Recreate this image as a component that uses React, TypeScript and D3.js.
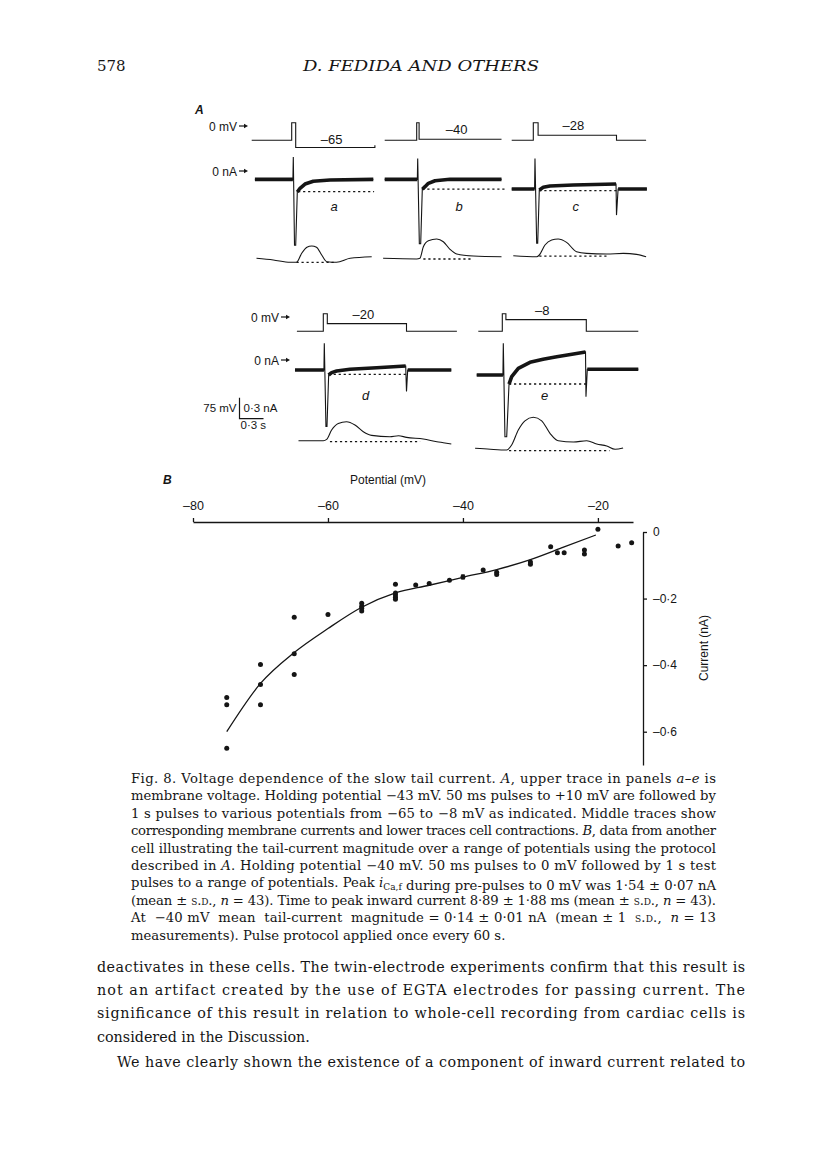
import React, { useEffect, useRef } from "react";
import * as d3 from "d3";

type Pt = number[];
type Seg = [string, string?];

// ---- Panel A: time in s from pulse onset; voltage mV, current nA, shortening um
// third element = 1 marks points of the thin capacity transients
const voltageA: Pt[] = [[-0.5, -43], [0, -43], [0, 10], [0.05, 10], [0.05, -65], [1.04, -65], [1.04, -58]];
const currentA: Pt[] = [[-0.46, -0.12], [0.015, -0.12], [0.02, 0.2, 1], [0.035, -1.06, 1], [0.05, -1.06, 1], [0.07, -0.3, 1], [0.07, -0.3], [0.104, -0.247], [0.166, -0.186], [0.27, -0.147], [0.48, -0.129], [1.02, -0.119]];
const dashCurrentA: Pt[] = [[0.08, -0.296], [1.03, -0.296]];
const contractionA: Pt[] = [[-0.44, 0.34], [-0.23, 0], [-0.02, -0.46], [0.06, -0.46], [0.125, 1.34], [0.19, 2.54], [0.25, 2.8], [0.31, 2.54], [0.375, 1.0], [0.44, -0.34], [0.56, -0.46], [0.73, 0.34], [1.0, 0.66]];
const dashContractionA: Pt[] = [[0.06, -0.46], [0.56, -0.46]];

const voltageB: Pt[] = [[-0.4, -43], [0, -43], [0, 10], [0.03, 10], [0.03, -40], [1.06, -40]];
const currentB: Pt[] = [[-0.4, -0.12], [0.008, -0.12], [0.0125, 0.18, 1], [0.033, -1.04, 1], [0.05, -1.04, 1], [0.07, -0.26, 1], [0.07, -0.26], [0.104, -0.224], [0.146, -0.176], [0.229, -0.139], [0.416, -0.119], [1.06, -0.119]];
const dashCurrentB: Pt[] = [[0.07, -0.26], [1.1, -0.26]];
const contractionB: Pt[] = [[-0.42, 0], [0, -0.13], [0.04, 0], [0.083, 2.32], [0.146, 3.52], [0.25, 3.86], [0.333, 3.32], [0.416, 1.8], [0.5, 0.86], [0.708, 0.46], [1.06, 0.32]];
const dashContractionB: Pt[] = [[0.083, -0.14], [0.708, -0.14]];

const voltageC: Pt[] = [[-0.27, -43], [0, -43], [0, 10], [0.06, 10], [0.06, -28], [1.04, -28], [1.04, -43], [1.41, -43]];
const currentC: Pt[] = [[-0.27, -0.257], [0.016, -0.257], [0.021, 0.18, 1], [0.042, -1.033, 1], [0.055, -1.033, 1], [0.075, -0.27, 1], [0.075, -0.27], [0.125, -0.233], [0.208, -0.214], [0.5, -0.2], [1.034, -0.186], [1.04, -0.63, 1], [1.06, -0.257, 1], [1.06, -0.257], [1.42, -0.257]];
const dashCurrentC: Pt[] = [[0.075, -0.281], [1.04, -0.281]];
const contractionC: Pt[] = [[-0.25, 0], [0.042, -0.2], [0.075, 0.14], [0.146, 2.14], [0.23, 3.14], [0.31, 3.34], [0.416, 2.66], [0.54, 0.8], [0.667, 0.46], [0.917, 0.34], [1.125, 0.46], [1.29, 0.26], [1.41, -0.2]];
const dashContractionC: Pt[] = [[0.075, -0.07], [0.917, -0.07]];

const voltageD: Pt[] = [[-0.33, -43], [0, -43], [0, 10], [0.05, 10], [0.05, -20], [1.04, -20], [1.04, -43], [1.67, -43]];
const currentD: Pt[] = [[-0.354, -0.143], [0.008, -0.143], [0.0125, 0.24, 1], [0.033, -0.95, 1], [0.046, -0.95, 1], [0.067, -0.214, 1], [0.067, -0.214], [0.104, -0.18], [0.167, -0.157], [0.333, -0.133], [0.667, -0.11], [1.03, -0.086], [1.04, -0.45, 1], [1.055, -0.143, 1], [1.055, -0.143], [1.6, -0.143]];
const dashCurrentD: Pt[] = [[0.067, -0.204], [1.04, -0.204]];
const contractionD: Pt[] = [[-0.31, 0], [0, 0], [0.042, 0.26], [0.104, 2.14], [0.1875, 3.46], [0.29, 3.8], [0.396, 3.14], [0.5, 1.8], [0.604, 1.06], [0.833, 0.8], [0.94, 1.0], [1.04, 0.66], [1.25, 0.34], [1.42, -0.2], [1.5, -0.4], [1.6, -0.66]];
const dashContractionD: Pt[] = [[0.083, -0.2], [1.21, -0.2]];

const voltageE: Pt[] = [[-0.3, -43], [0, -43], [0, 10], [0.045, 10], [0.045, -8], [1.05, -8], [1.05, -43], [1.7, -43]];
const currentE: Pt[] = [[-0.32, -0.214], [0.008, -0.214], [0.0125, 0.24, 1], [0.033, -1.096, 1], [0.055, -1.096, 1], [0.084, -0.343, 1], [0.084, -0.343], [0.1175, -0.238], [0.2, -0.119], [0.346, -0.033], [0.51, 0.01], [0.68, 0.047], [0.89, 0.086], [1.04, 0.114], [1.046, -0.524, 1], [1.0625, -0.133, 1], [1.0625, -0.133], [1.7, -0.133]];
const dashCurrentE: Pt[] = [[0.084, -0.343], [1.046, -0.343]];
const contractionE: Pt[] = [[-0.34, 0], [-0.15, -0.2], [0.055, -0.34], [0.117, 0.66], [0.2, 3.66], [0.283, 5.5], [0.3875, 6.2], [0.4925, 5.5], [0.596, 3.0], [0.7, 1.5], [0.89, 1.26], [1.055, 1.5], [1.18, 0.86], [1.305, 0.46], [1.41, -0.2], [1.51, 0.06]];
const dashContractionE: Pt[] = [[0.084, -0.48], [1.34, -0.48]];

const testLevels = [-65, -40, -28, -20, -8];
const panelLetters = ["a", "b", "c", "d", "e"];
const scaleBar = { mV: 75, nA: 0.3, s: 0.3 };

// ---- Panel B: tail current vs potential
const potentialTicks = [-80, -60, -40, -20];
const currentTicks = [0, -0.2, -0.4, -0.6];
const tailPoints: Pt[] = [
  [-75, -0.497], [-75, -0.519], [-75, -0.65],
  [-70, -0.398], [-70, -0.458], [-70, -0.519],
  [-65, -0.256], [-65, -0.366], [-65, -0.428],
  [-60, -0.248],
  [-55, -0.214], [-55, -0.223], [-55, -0.229], [-55, -0.237],
  [-50, -0.157], [-50, -0.183], [-50, -0.189], [-50, -0.196], [-50, -0.202],
  [-47, -0.159], [-45, -0.155], [-42, -0.145], [-40, -0.135],
  [-37, -0.114], [-35, -0.121], [-35, -0.128],
  [-30, -0.09], [-30, -0.097],
  [-27, -0.044], [-26, -0.062], [-25, -0.062],
  [-22, -0.054], [-22, -0.066],
  [-20, 0.008], [-17, -0.042], [-15, -0.032],
];
const tailError = { mV: -40, mean: -0.135, sd: 0.006 };
const fitCurve: Pt[] = [[-75, -0.6], [-70, -0.455], [-65, -0.362], [-60, -0.29], [-55, -0.226], [-50, -0.183], [-45, -0.16], [-40, -0.136], [-35, -0.113], [-30, -0.083], [-25, -0.045], [-20.3, -0.009]];

// ---- page text
const captionLines: Seg[][] = [
  [["Fig. 8. Voltage dependence of the slow tail current. "], ["A", "i"], [", upper trace in panels "], ["a–e", "i"], [" is"]],
  [["membrane voltage. Holding potential −43 mV. 50 ms pulses to +10 mV are followed by"]],
  [["1 s pulses to various potentials from −65 to −8 mV as indicated. Middle traces show"]],
  [["corresponding membrane currents and lower traces cell contractions. "], ["B", "i"], [", data from another"]],
  [["cell illustrating the tail-current magnitude over a range of potentials using the protocol"]],
  [["described in "], ["A", "i"], [". Holding potential −40 mV. 50 ms pulses to 0 mV followed by 1 s test"]],
  [["pulses to a range of potentials. Peak "], ["i", "i"], ["Ca,f", "sub"], [" during pre-pulses to 0 mV was 1·54 ± 0·07 nA"]],
  [["(mean ± "], ["s.d.", "sc"], [", "], ["n", "i"], [" = 43). Time to peak inward current 8·89 ± 1·88 ms (mean ± "], ["s.d.", "sc"], [", "], ["n", "i"], [" = 43)."]],
  [["At  −40 mV  mean  tail-current  magnitude = 0·14 ± 0·01 nA  (mean ± 1  "], ["s.d.", "sc"], [",  "], ["n", "i"], [" = 13"]],
  [["measurements). Pulse protocol applied once every 60 s."]],
];
const bodyLines = [
  "deactivates in these cells. The twin-electrode experiments confirm that this result is",
  "not an artifact created by the use of EGTA electrodes for passing current. The",
  "significance of this result in relation to whole-cell recording from cardiac cells is",
  "considered in the Discussion.",
  "We have clearly shown the existence of a component of inward current related to",
];

const SANS = "'Liberation Sans', Arial, Helvetica, sans-serif";
const SERIF = "'DejaVu Serif', serif";
const INK = "#151515";

export default function App() {
  const svgRef = useRef<SVGSVGElement>(null);

  useEffect(() => {
    const svg = d3.select(svgRef.current);
    svg.selectAll("*").remove();
    svg.append("rect").attr("width", 816).attr("height", 1170).attr("fill", "#fff");

    /* header */
    svg.append("text").attr("x", 97).attr("y", 71).attr("font-family", SERIF).attr("font-size", 15).attr("fill", INK).text("578");
    svg.append("text").attr("x", 421).attr("y", 71).attr("text-anchor", "middle").attr("font-family", SERIF).attr("font-size", 15.5)
      .attr("font-style", "italic").attr("textLength", 236).attr("lengthAdjust", "spacingAndGlyphs").attr("fill", INK).text("D. FEDIDA AND OTHERS");

    /* ---------- Panel A ---------- */
    const PX_PER_S = 80, PX_PER_MV = 0.33, PX_PER_NA = 70, PX_PER_UM = 5;
    const rows = [
      { vZero: 126, iZero: 171, vMarkEnd: 248, iMarkEnd: 248 },
      { vZero: 317, iZero: 360, vMarkEnd: 290, iMarkEnd: 290 },
    ];
    const panels = [
      { row: 0, x0: 291.7, cBase: 260, v: voltageA, i: currentA, di: dashCurrentA, c: contractionA, dc: dashContractionA },
      { row: 0, x0: 416.7, cBase: 258.3, v: voltageB, i: currentB, di: dashCurrentB, c: contractionB, dc: dashContractionB },
      { row: 0, x0: 533.3, cBase: 255.7, v: voltageC, i: currentC, di: dashCurrentC, c: contractionC, dc: dashContractionC },
      { row: 1, x0: 323.3, cBase: 440.7, v: voltageD, i: currentD, di: dashCurrentD, c: contractionD, dc: dashContractionD },
      { row: 1, x0: 502.3, cBase: 448.3, v: voltageE, i: currentE, di: dashCurrentE, c: contractionE, dc: dashContractionE },
    ];

    const gA = svg.append("g").attr("fill", "none").attr("stroke", INK);
    svg.append("text").attr("x", 195).attr("y", 114).attr("font-family", SANS).attr("font-size", 12)
      .attr("font-style", "italic").attr("font-weight", "bold").attr("fill", INK).text("A");

    // 0 mV / 0 nA markers
    rows.forEach((r) => {
      [["0 mV", r.vZero, r.vMarkEnd], ["0 nA", r.iZero, r.iMarkEnd]].forEach(([lab, y, xe]) => {
        const yy = y as number, xx = xe as number;
        svg.append("text").attr("x", xx - 11).attr("y", yy + 4.5).attr("text-anchor", "end").attr("font-family", SANS)
          .attr("font-size", 12).attr("fill", INK).text(lab as string);
        gA.append("line").attr("x1", xx - 9).attr("x2", xx - 3).attr("y1", yy).attr("y2", yy).attr("stroke-width", 1.2);
        gA.append("path").attr("d", `M${xx - 4},${yy - 2.2}L${xx},${yy}L${xx - 4},${yy + 2.2}Z`).attr("fill", INK).attr("stroke", "none");
      });
    });

    panels.forEach((p, k) => {
      const r = rows[p.row];
      const x = d3.scaleLinear().domain([0, 1]).range([p.x0, p.x0 + PX_PER_S]);
      const yV = d3.scaleLinear().domain([0, 1]).range([r.vZero, r.vZero - PX_PER_MV]);
      const yI = d3.scaleLinear().domain([0, 1]).range([r.iZero, r.iZero - PX_PER_NA]);
      const yC = d3.scaleLinear().domain([0, 1]).range([p.cBase, p.cBase - PX_PER_UM]);

      const vLine = d3.line<Pt>().x((d) => x(d[0])).y((d) => yV(d[1]));
      gA.append("path").attr("d", vLine(p.v)).attr("stroke-width", 1.1);

      const iLine = d3.line<Pt>().x((d) => x(d[0])).y((d) => yI(d[1]));
      gA.append("path").attr("d", iLine(p.i)).attr("stroke-width", 1.1);
      gA.append("path").attr("d", iLine.defined((d) => !d[2])(p.i)).attr("stroke-width", 3.6).attr("stroke-linejoin", "round");
      gA.append("path").attr("d", d3.line<Pt>().x((d) => x(d[0])).y((d) => yI(d[1]))(p.di))
        .attr("stroke-width", 1.3).attr("stroke-dasharray", "2.2,2.8");

      const cLine = d3.line<Pt>().x((d) => x(d[0])).y((d) => yC(d[1])).curve(d3.curveMonotoneX);
      gA.append("path").attr("d", cLine(p.c)).attr("stroke-width", 1.1);
      gA.append("path").attr("d", d3.line<Pt>().x((d) => x(d[0])).y((d) => yC(d[1]))(p.dc))
        .attr("stroke-width", 1.3).attr("stroke-dasharray", "2.2,2.8");

      const lvl = testLevels[k];
      svg.append("text").attr("x", x(0.5)).attr("y", yV(lvl) - (lvl < -43 ? 3.5 : 5)).attr("text-anchor", "middle")
        .attr("font-family", SANS).attr("font-size", 13).attr("fill", INK).text("–" + Math.abs(lvl));
      svg.append("text").attr("x", x(0.53)).attr("y", yI(-0.57)).attr("text-anchor", "middle")
        .attr("font-family", SANS).attr("font-size", 13).attr("font-style", "italic").attr("fill", INK).text(panelLetters[k]);
    });

    // calibration bar (row 2 scales)
    const bx = 239.5, by = 418.7;
    const barH = scaleBar.nA * PX_PER_NA, barW = scaleBar.s * PX_PER_S;
    gA.append("path").attr("d", `M${bx},${by - barH}V${by}H${bx + barW}`).attr("stroke-width", 1.2);
    svg.append("text").attr("x", bx - 3).attr("y", by - 7).attr("text-anchor", "end").attr("font-family", SANS)
      .attr("font-size", 11.5).attr("fill", INK).text(`${scaleBar.mV} mV`);
    svg.append("text").attr("x", bx + 4).attr("y", by - 7).attr("font-family", SANS)
      .attr("font-size", 11.5).attr("fill", INK).text(`${String(scaleBar.nA).replace(".", "·")} nA`);
    svg.append("text").attr("x", bx + 1).attr("y", by + 10.5).attr("font-family", SANS)
      .attr("font-size", 11.5).attr("fill", INK).text(`${String(scaleBar.s).replace(".", "·")} s`);

    /* ---------- Panel B ---------- */
    const xB = d3.scaleLinear().domain([-80, -14.8]).range([193, 633]);
    const yB = d3.scaleLinear().domain([-0.7, 0]).range([765, 532]);
    const fmt = (d: number) => (d === 0 ? "0" : "–" + (Math.abs(d) % 1 === 0 ? String(Math.abs(d)) : d3.format(".1f")(Math.abs(d)).replace(".", "·")));

    const gB = svg.append("g");
    gB.append("text").attr("x", 163).attr("y", 484).attr("font-family", SANS).attr("font-size", 12)
      .attr("font-style", "italic").attr("font-weight", "bold").attr("fill", INK).text("B");
    gB.append("text").attr("x", 388).attr("y", 484).attr("text-anchor", "middle").attr("font-family", SANS)
      .attr("font-size", 12).attr("fill", INK).text("Potential (mV)");

    const ax = gB.append("g").attr("transform", "translate(0,522)")
      .call(d3.axisTop(xB).tickValues(potentialTicks).tickSize(4).tickSizeOuter(0).tickPadding(8).tickFormat((d) => fmt(+d)));
    const ay = gB.append("g").attr("transform", "translate(643,0)")
      .call(d3.axisRight(yB).tickValues(currentTicks).tickSize(4).tickSizeOuter(0).tickPadding(6).tickFormat((d) => fmt(+d)));
    [ax, ay].forEach((a) => {
      a.attr("font-family", SANS).attr("font-size", 12.5);
      a.selectAll("path,line").attr("stroke", INK).attr("stroke-width", 1.3);
      a.selectAll("text").attr("fill", INK);
    });
    ay.selectAll("text").attr("font-size", 12);

    gB.append("text").attr("transform", "translate(708,648) rotate(-90)").attr("text-anchor", "middle")
      .attr("font-family", SANS).attr("font-size", 12).attr("fill", INK).text("Current (nA)");

    gB.append("path").attr("d", d3.line<Pt>().x((d) => xB(d[0])).y((d) => yB(d[1])).curve(d3.curveMonotoneX)(fitCurve))
      .attr("fill", "none").attr("stroke", INK).attr("stroke-width", 1.3);
    gB.selectAll("circle").data(tailPoints).enter().append("circle")
      .attr("cx", (d) => xB(d[0])).attr("cy", (d) => yB(d[1])).attr("r", 2.5).attr("fill", INK);
    const ex = xB(tailError.mV);
    gB.append("path")
      .attr("d", `M${ex},${yB(tailError.mean + tailError.sd)}V${yB(tailError.mean - tailError.sd)}M${ex - 2},${yB(tailError.mean + tailError.sd)}H${ex + 2}M${ex - 2},${yB(tailError.mean - tailError.sd)}H${ex + 2}`)
      .attr("stroke", INK).attr("stroke-width", 1);

    /* ---------- caption + body ---------- */
    const cap = svg.append("g").attr("font-family", SERIF).attr("font-size", 13.2).attr("fill", INK);
    captionLines.forEach((segs, li) => {
      const t = cap.append("text").attr("x", 131).attr("y", 783 + li * 17.4).style("white-space", "pre");
      if (li < captionLines.length - 1) t.attr("textLength", 585).attr("lengthAdjust", "spacing");
      segs.forEach(([s, st]) => {
        const ts = t.append("tspan").text(s);
        if (st === "i") ts.attr("font-style", "italic");
        if (st === "sc") ts.attr("font-variant", "small-caps").text(s.toLowerCase());
        if (st === "sub") ts.attr("font-size", 9).attr("dy", 3);
        if (st === "sub") t.append("tspan").attr("dy", -3).text("");
      });
    });

    const body = svg.append("g").attr("font-family", SERIF).attr("font-size", 14.3).attr("fill", INK);
    bodyLines.forEach((s, li) => {
      const indent = li === 4 ? 20 : 0;
      const t = body.append("text").attr("x", 97 + indent).attr("y", 972 + li * 23.2 + (li === 4 ? 2 : 0)).text(s);
      if (li !== 3) t.attr("textLength", 648 - indent).attr("lengthAdjust", "spacing");
    });
  }, []);

  return <svg ref={svgRef} width={816} height={1170} style={{ position: "absolute", left: 0, top: 0 }} />;
}
